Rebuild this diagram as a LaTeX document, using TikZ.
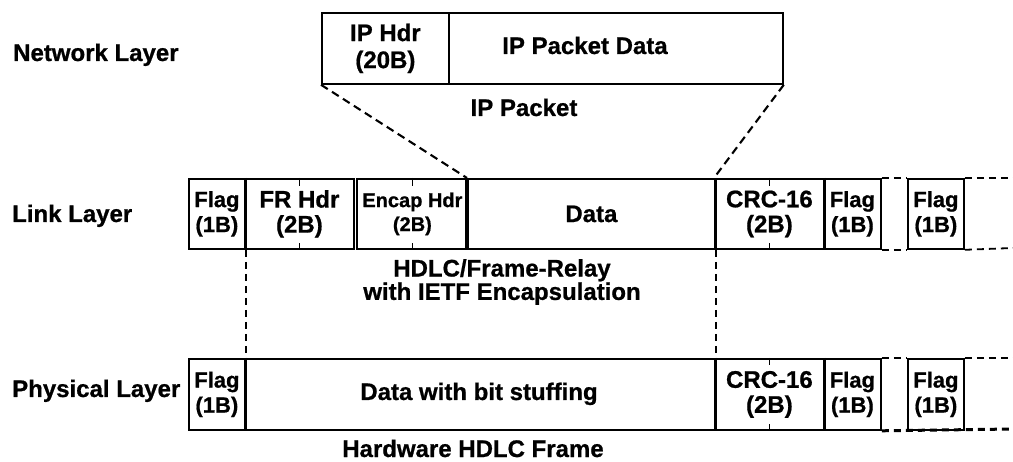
\documentclass[tikz,border=0pt]{standalone}
\usepackage{fontspec}
\setmainfont{Liberation Sans}[FakeBold=0.8]
\begin{document}
\begin{tikzpicture}[x=1pt,y=-1pt,
  txt/.style={font=\fontsize{24}{25}\selectfont\bfseries},
  flagtxt/.style={font=\fontsize{22}{25}\selectfont\bfseries},
  smalltxt/.style={font=\fontsize{20}{24}\selectfont\bfseries},
  field/.style={draw, line width=1.8pt, inner sep=0pt, anchor=north west,
                align=center, rectangle},
  linkrow/.style={field, minimum height=70pt},
  physrow/.style={field, minimum height=71pt},
  divider/.style={line width=3.2pt},
  guideline/.style={line width=1.8pt, dash pattern=on 7pt off 5pt},
  slant/.style={line width=2.1pt, dash pattern=on 8pt off 5pt},
  ticklen/.style={line width=1.8pt},
  lbl/.style={txt, inner sep=0pt, anchor=base},
  layer/.style={txt, inner sep=0pt, anchor=base west}
]
\useasboundingbox (0,0) rectangle (1013,462);

% layer names
\node[layer] (netname)  at (13,61)  {Network Layer};
\node[layer] (linkname) at (12,222) {Link Layer};
\node[layer] (physname) at (12,397) {Physical Layer};

% IP packet
\node[field, minimum width=127pt, minimum height=71pt, txt] (iphdr) at (321,12) {IP Hdr\\[2pt](20B)};
\node[field, minimum width=334pt, minimum height=71pt] (ipdata) at (448,12) {};
\node[lbl] (ipdatatxt) at (585,54) {IP Packet Data};
\node[lbl] (iplabel) at (524,116) {IP Packet};

% link layer frame
\node[linkrow, minimum width=56pt,  flagtxt] (lflag)  at (188,178) {Flag\\(1B)};
\node[linkrow, minimum width=109pt, txt]     (lfr)    at (244,178) {FR Hdr\\(2B)};
\node[linkrow, minimum width=111pt, smalltxt] (lencap) at (356,178) {Encap Hdr\\(2B)};
\node[linkrow, minimum width=247pt, txt]     (ldata)  at (467,178) {Data};
\node[linkrow, minimum width=109pt, txt]     (lcrc)   at (714,178) {CRC-16\\(2B)};
\node[linkrow, minimum width=57pt,  flagtxt] (lflag2) at (823,178) {Flag\\(1B)};
\node[linkrow, minimum width=56pt,  flagtxt] (lflag3) at (907,178) {Flag\\(1B)};
\coordinate (lendtop) at (1013,178);
\coordinate (lendbot) at (1013,248);

\draw[divider] (lflag.north east) -- (lflag.south east);
\draw[divider] (ldata.north west) -- (ldata.south west);
\draw[divider] (ldata.north east) -- (ldata.south east);
\draw[divider] (lcrc.north east) -- (lcrc.south east);

\foreach \f in {lfr,lencap,lcrc}{
  \draw[ticklen] (\f.north) -- ++(0,8);
  \draw[ticklen] (\f.south) -- ++(0,-7);
}

\draw[guideline] (lflag2.north east) -- (lflag3.north west);
\draw[guideline] (lflag2.south east) -- (lflag3.south west);
\draw[guideline] (lflag3.north east) -- (lendtop);
\draw[guideline] (lflag3.south east) -- (lendbot);

\node[inner sep=0pt, align=center, font=\fontsize{24}{20}\selectfont\bfseries] (hdlcname) at (502,282)
  {HDLC/Frame-Relay\\with IETF Encapsulation};

% physical layer frame
\node[physrow, minimum width=56pt,  flagtxt] (pflag)  at (188,358) {Flag\\(1B)};
\node[physrow, minimum width=470pt]           (pdata)  at (244,358) {};
\node[lbl] (pdatatxt) at (479,400) {Data with bit stuffing};
\node[physrow, minimum width=109pt, txt]     (pcrc)   at (714,358) {CRC-16\\(2B)};
\node[physrow, minimum width=57pt,  flagtxt] (pflag2) at (823,358) {Flag\\(1B)};
\node[physrow, minimum width=56pt,  flagtxt] (pflag3) at (907,358) {Flag\\(1B)};
\coordinate (pendtop) at (1013,358);
\coordinate (pendbot) at (1013,429);

\draw[divider] (pflag.north east) -- (pflag.south east);
\draw[divider] (pdata.north east) -- (pdata.south east);
\draw[divider] (pcrc.north east) -- (pcrc.south east);
\draw[ticklen] (pcrc.north) -- ++(0,7);
\draw[ticklen] (pcrc.south) -- ++(0,-7);

\draw[guideline] (pflag2.north east) -- (pflag3.north west);
\draw[guideline] (pflag3.north east) -- (pendtop);
\draw[guideline, line width=3pt] (pflag2.south east) -- (pendbot);

\node[lbl] (hwname) at (473,457) {Hardware HDLC Frame};

% mapping lines between layers
\draw[slant] (iphdr.south west) -- (ldata.north west);
\draw[slant] (ipdata.south east) -- (lcrc.north west);
\draw[guideline] (lflag.south east) -- (pflag.north east);
\draw[guideline] (ldata.south east) -- (pdata.north east);
\end{tikzpicture}
\end{document}
